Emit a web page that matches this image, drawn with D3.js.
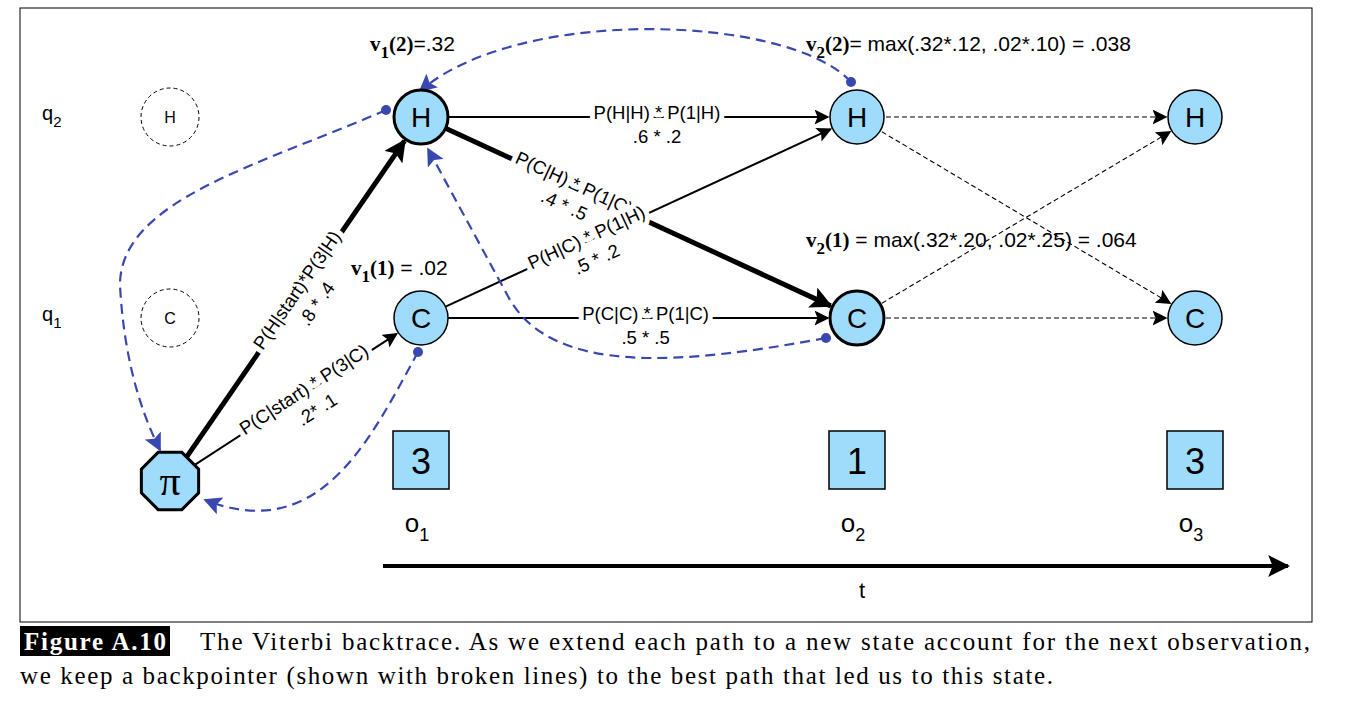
<!DOCTYPE html>
<html><head><meta charset="utf-8">
<script src="https://cdn.jsdelivr.net/npm/d3@7"></script>
<style>body{margin:0;background:#fff}</style></head>
<body><svg id="c" width="1354" height="714"></svg>
<script>
const times = [1, 2, 3];
const states = ["H", "C"];
const observations = [3, 1, 3];
const stateRows = ["q2", "q1"];
const solidEdges = [
  {from:"pi", to:[1,"H"], w:5, l1:"P(H|start)*P(3|H)", l2:".8 * .4", f:0.52},
  {from:"pi", to:[1,"C"], w:2, l1:"P(C|start) * P(3|C)", l2:".2* .1", f:0.55},
  {from:[1,"H"], to:[2,"H"], w:2, l1:"P(H|H) * P(1|H)", l2:".6 * .2", f:0.55},
  {from:[1,"H"], to:[2,"C"], w:5, l1:"P(C|H) * P(1|C)", l2:".4 * .5", f:0.33},
  {from:[1,"C"], to:[2,"H"], w:2, l1:"P(H|C) * P(1|H)", l2:".5 * .2", f:0.37},
  {from:[1,"C"], to:[2,"C"], w:2, l1:"P(C|C) * P(1|C)", l2:".5 * .5", f:0.52}
];
const dashedEdges = [[[2,"H"],[3,"H"]],[[2,"H"],[3,"C"]],[[2,"C"],[3,"H"]],[[2,"C"],[3,"C"]]];
const viterbi = [
  {t:1, s:"H", sub:"1", arg:"(2)", rest:"=.32"},
  {t:1, s:"C", sub:"1", arg:"(1)", rest:" = .02"},
  {t:2, s:"H", sub:"2", arg:"(2)", rest:"= max(.32*.12, .02*.10) = .038"},
  {t:2, s:"C", sub:"2", arg:"(1)", rest:" = max(.32*.20, .02*.25) = .064"}
];

const x = d3.scaleOrdinal().domain([0,1,2,3]).range([170,421,857,1195]);
const y = d3.scaleOrdinal().domain(["H","C","pi","obs"]).range([117,318,481,461]);
const R = 27, blue="#9fdcfb", bp="#3848b0";
const svg = d3.select("#c");
const sans = "Liberation Sans, Arial, sans-serif", serif="Liberation Serif, Times New Roman, serif";
const defs = svg.append("defs");
function marker(id,col,sz){
  defs.append("marker").attr("id",id).attr("viewBox","0 0 10 10").attr("refX",9).attr("refY",5)
   .attr("markerWidth",sz).attr("markerHeight",sz).attr("markerUnits","userSpaceOnUse").attr("orient","auto")
   .append("path").attr("d","M0,0L10,5L0,10L2,5Z").attr("fill",col);
}
marker("ak","#000",22); marker("ak2","#000",15); marker("ab",bp,18);

svg.append("rect").attr("x",20).attr("y",8).attr("width",1292).attr("height",614).attr("fill","none").attr("stroke","#000").attr("stroke-width",1);

const P = n => n==="pi" ? [x(0),y("pi")] : [x(n[0]), y(n[1])];
function trim(a,b,ra,rb){const dx=b[0]-a[0],dy=b[1]-a[1],L=Math.hypot(dx,dy);
  return [[a[0]+dx/L*ra,a[1]+dy/L*ra],[b[0]-dx/L*rb,b[1]-dy/L*rb]];}

dashedEdges.forEach(([a,b])=>{const [p,q]=trim(P(a),P(b),R+2,R+2);
  svg.append("line").attr("x1",p[0]).attr("y1",p[1]).attr("x2",q[0]).attr("y2",q[1])
   .attr("stroke","#000").attr("stroke-width",1.1).attr("stroke-dasharray","5,3").attr("marker-end","url(#ak2)");});

solidEdges.forEach(e=>{const [p,q]=trim(P(e.from),P(e.to),e.from==="pi"?30:R,R+2);
  svg.append("line").attr("x1",p[0]).attr("y1",p[1]).attr("x2",q[0]).attr("y2",q[1])
   .attr("stroke","#000").attr("stroke-width",e.w).attr("marker-end",e.w>3?"url(#ak)":"url(#ak2)");
  const ang=Math.atan2(q[1]-p[1],q[0]-p[0])*180/Math.PI;
  const cx=p[0]+(q[0]-p[0])*e.f, cy=p[1]+(q[1]-p[1])*e.f;
  const g=svg.append("g").attr("transform",`translate(${cx},${cy}) rotate(${ang})`);
  [e.l1,e.l2].forEach((t,i)=>g.append("text").attr("y",i*24-4).attr("dy","0.35em").attr("text-anchor","middle")
    .attr("font-family",sans).attr("font-size",18.5).attr("fill","#000")
    .attr("stroke","#fff").attr("stroke-width",10).attr("paint-order","stroke").attr("stroke-linejoin","round").text(t));
});

const backs = [
  "M851,82 C790,15 520,5 420,91",
  "M826,338 C680,365 555,375 510,300 L428,149",
  "M386,110 C260,165 120,200 120,285 Q125,380 160,450",
  "M418,352 C370,440 320,545 205,500"
];
backs.forEach(d=>{
  svg.append("path").attr("d",d).attr("fill","none").attr("stroke",bp).attr("stroke-width",2.2)
   .attr("stroke-dasharray","10,6").attr("marker-end","url(#ab)");
  const m=d.match(/M([\d.]+),([\d.]+)/);
  svg.append("circle").attr("cx",+m[1]).attr("cy",+m[2]).attr("r",5).attr("fill",bp);
});

states.forEach(s=>{svg.append("circle").attr("cx",x(0)).attr("cy",y(s)).attr("r",29).attr("fill","none")
   .attr("stroke","#000").attr("stroke-dasharray","4,3");
  svg.append("text").attr("x",x(0)).attr("y",y(s)).attr("dy","0.36em").attr("text-anchor","middle")
   .attr("font-family",sans).attr("font-size",16).text(s);});
stateRows.forEach((q,i)=>{const t=svg.append("text").attr("x",42).attr("y",y(states[i])+3).attr("font-family",sans).attr("font-size",20).text("q");
  t.append("tspan").attr("dy",7).attr("font-size",15).text(q[1]);});

times.forEach(t=>states.forEach(s=>{
  const bold = (t===1&&s==="H")||(t===2&&s==="C");
  svg.append("circle").attr("cx",x(t)).attr("cy",y(s)).attr("r",R).attr("fill",blue).attr("stroke","#000").attr("stroke-width",bold?3:1.5);
  svg.append("text").attr("x",x(t)).attr("y",y(s)).attr("dy","0.36em").attr("text-anchor","middle")
   .attr("font-family",sans).attr("font-size",28).text(s);
}));
const oct=d3.range(8).map(i=>{const a=Math.PI/8+i*Math.PI/4;return [x(0)+31*Math.cos(a),y("pi")+31*Math.sin(a)];});
svg.append("polygon").attr("points",oct.map(p=>p.join(",")).join(" ")).attr("fill",blue).attr("stroke","#000").attr("stroke-width",3);
svg.append("text").attr("x",x(0)).attr("y",y("pi")).attr("dy","0.33em").attr("text-anchor","middle").attr("font-family",serif).attr("font-size",42).text("π");

observations.forEach((o,i)=>{const t=times[i];
  svg.append("rect").attr("x",x(t)-28).attr("y",y("obs")-30).attr("width",56).attr("height",58).attr("fill",blue).attr("stroke","#000").attr("stroke-width",1.5);
  svg.append("text").attr("x",x(t)).attr("y",y("obs")).attr("dy","0.36em").attr("text-anchor","middle").attr("font-family",sans).attr("font-size",36).text(o);
  const ot=svg.append("text").attr("x",x(t)-4).attr("y",532).attr("font-family",sans).attr("font-size",26).attr("text-anchor","middle").text("o");
  ot.append("tspan").attr("dy",9).attr("font-size",18).text(t);
});
svg.append("line").attr("x1",383).attr("y1",566).attr("x2",1288).attr("y2",566).attr("stroke","#000").attr("stroke-width",4).attr("marker-end","url(#ak)");
svg.append("text").attr("x",862).attr("y",598).attr("text-anchor","middle").attr("font-family",sans).attr("font-size",22).text("t");

const vpos={"1H":[370,51],"1C":[351,275],"2H":[806,51],"2C":[806,247]};
viterbi.forEach(v=>{const [px,py]=vpos[v.t+v.s];
  const t=svg.append("text").attr("x",px).attr("y",py).attr("font-size",21);
  t.append("tspan").attr("font-family",serif).attr("font-weight","bold").text("v");
  t.append("tspan").attr("font-family",serif).attr("font-weight","bold").attr("dy",7).attr("font-size",17).text(v.sub);
  t.append("tspan").attr("font-family",serif).attr("font-weight","bold").attr("dy",-7).text(v.arg);
  t.append("tspan").attr("font-family",sans).text(v.rest);
});

svg.append("rect").attr("x",20).attr("y",626).attr("width",150).attr("height",30).attr("fill","#000");
svg.append("text").attr("x",24).attr("y",650).attr("font-family",serif).attr("font-weight","bold").attr("font-size",25).attr("fill","#fff").attr("textLength",142).text("Figure A.10");
svg.append("text").attr("x",200).attr("y",650).attr("font-family",serif).attr("font-size",25).attr("textLength",1110).attr("lengthAdjust","spacing")
  .text("The Viterbi backtrace. As we extend each path to a new state account for the next observation,");
svg.append("text").attr("x",20).attr("y",684).attr("font-family",serif).attr("font-size",25).attr("textLength",1033).attr("lengthAdjust","spacing")
  .text("we keep a backpointer (shown with broken lines) to the best path that led us to this state.");
</script></body></html>
